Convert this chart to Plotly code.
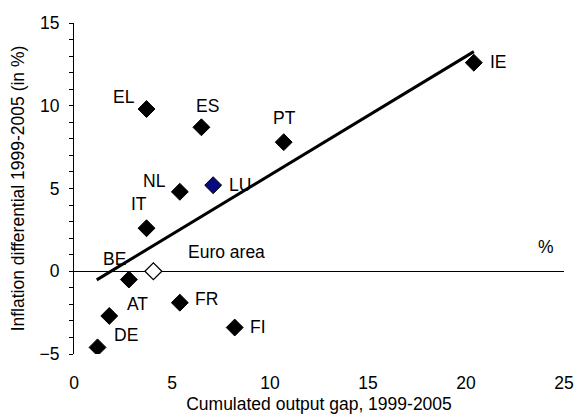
import plotly.graph_objects as go

# Data
countries = ["EL", "ES", "PT", "IE", "NL", "LU", "IT", "BE", "AT", "DE", "FR", "FI"]
output_gap = [3.7, 6.5, 10.7, 20.4, 5.4, 7.1, 3.7, 2.8, 1.8, 1.2, 5.4, 8.2]
inflation_diff = [9.8, 8.7, 7.8, 12.6, 4.8, 5.2, 2.6, -0.5, -2.7, -4.6, -1.9, -3.4]

euro_label = "Euro area"
euro_gap = [4.05]
euro_infl = [0.0]

trend_x = [1.16, 20.4]
trend_y = [-0.52, 13.27]

# label offsets (pixels) for country annotations
label_dx = {"EL": -23, "ES": 6, "PT": 1, "IE": 25, "NL": -25, "LU": 27, "IT": -8,
            "BE": -14, "AT": 28, "DE": 28, "FR": 27, "FI": 23}
label_dy = {"EL": 12, "ES": 21, "PT": 24, "IE": 1, "NL": 11, "LU": 0, "IT": 24,
            "BE": 21, "AT": 12, "DE": 12, "FR": 4, "FI": 1}

FONT = "Liberation Sans, Arial, sans-serif"
FS = 17.5

fig = go.Figure()

fig.add_trace(go.Scatter(x=trend_x, y=trend_y, mode="lines",
                         line=dict(color="black", width=3), hoverinfo="skip",
                         showlegend=False))

colors = ["#0a0a80" if c == "LU" else "black" for c in countries]
fig.add_trace(go.Scatter(x=output_gap, y=inflation_diff, mode="markers",
                         text=countries,
                         marker=dict(symbol="diamond", size=13, color=colors,
                                     line=dict(color="black", width=1)),
                         showlegend=False))

fig.add_trace(go.Scatter(x=euro_gap, y=euro_infl, mode="markers",
                         text=[euro_label],
                         marker=dict(symbol="diamond", size=13, color="white",
                                     line=dict(color="black", width=1.3)),
                         showlegend=False))

for c, xv, yv in zip(countries, output_gap, inflation_diff):
    fig.add_annotation(x=xv, y=yv, text=c, showarrow=False,
                       xshift=label_dx[c], yshift=label_dy[c],
                       font=dict(family=FONT, size=FS, color="black"))

fig.add_annotation(x=euro_gap[0], y=euro_infl[0], text=euro_label, showarrow=False,
                   xanchor="left", xshift=33, yshift=19,
                   font=dict(family=FONT, size=FS, color="black"))

fig.add_annotation(x=24.1, y=1.45, text="%", showarrow=False,
                   font=dict(family=FONT, size=FS, color="black"))

fig.update_layout(
    width=576, height=414,
    margin=dict(l=74, r=12, t=23, b=60, autoexpand=False),
    paper_bgcolor="white", plot_bgcolor="white",
    font=dict(family=FONT, size=FS, color="black"),
    xaxis=dict(range=[0, 25], tickvals=[0, 5, 10, 15, 20, 25],
               showline=False, showgrid=False, zeroline=False, ticks="",
               ticklabelstandoff=16, automargin=False, ticklabeloverflow="allow",
               title=dict(text="Cumulated output gap, 1999-2005",
                          font=dict(size=FS), standoff=8)),
    yaxis=dict(range=[-5, 15], tickvals=[-5, 0, 5, 10, 15],
               showline=True, linecolor="black", linewidth=1,
               ticks="outside", ticklen=4, tickcolor="black",
               minor=dict(dtick=1, ticks="outside", ticklen=4, tickcolor="black"),
               showgrid=False, zeroline=True, zerolinecolor="black", zerolinewidth=1,
               ticklabelstandoff=6, automargin=True,
               title=dict(text="Inflation differential 1999-2005 (in %)",
                          font=dict(size=FS), standoff=10)),
)

fig.write_html("out.html",
               config={"displayModeBar": False},
               post_script="document.body.style.margin='0';document.body.style.overflow='hidden';")
